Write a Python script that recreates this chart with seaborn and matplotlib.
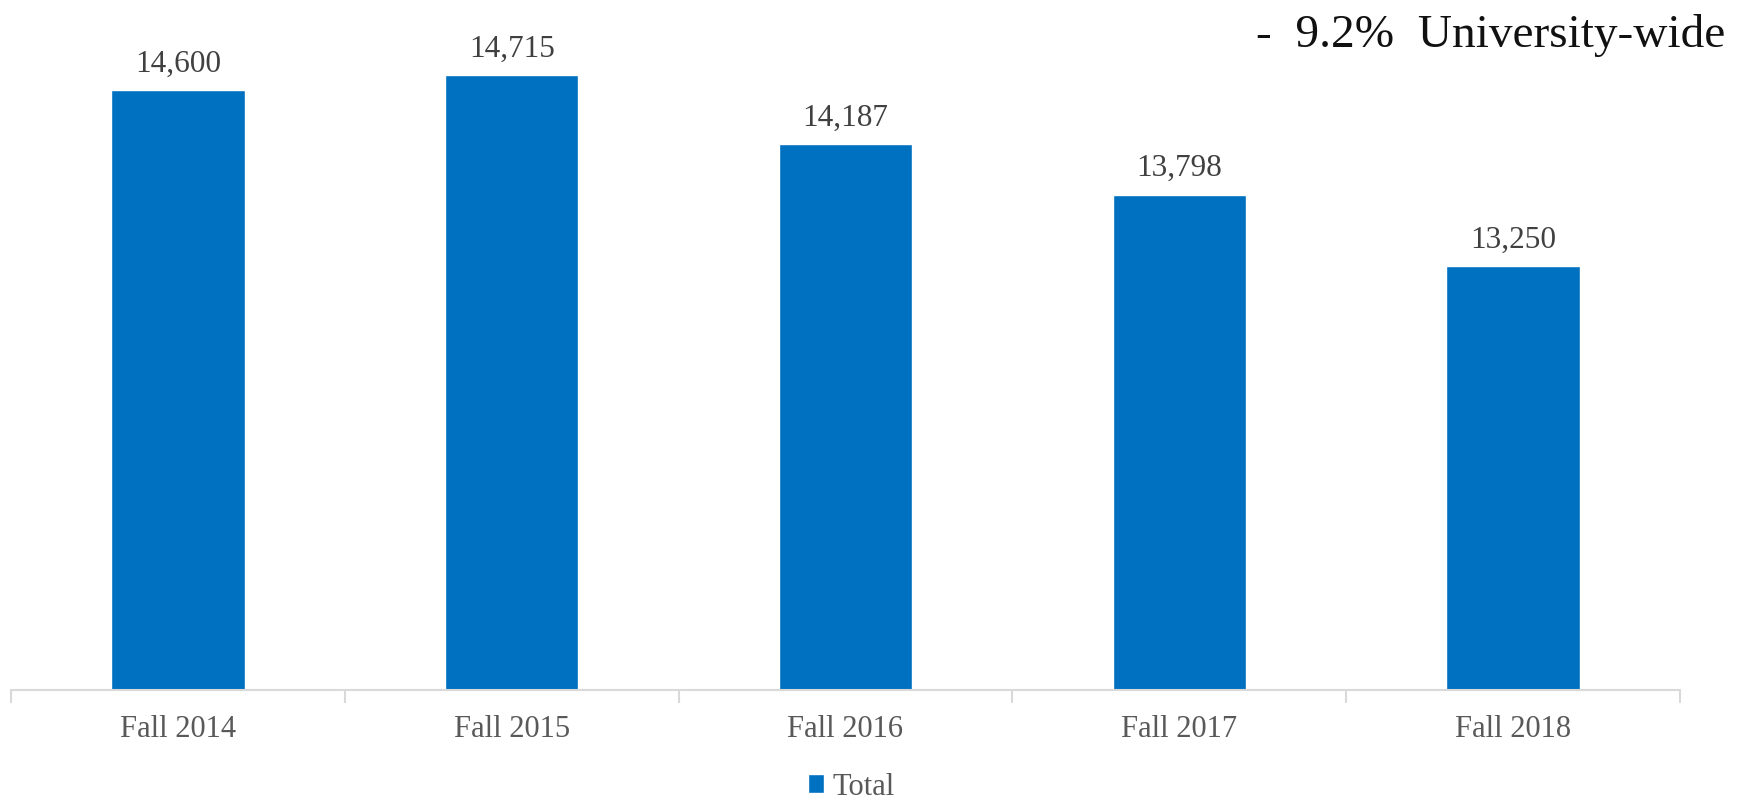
import matplotlib
matplotlib.use("Agg")
import matplotlib.pyplot as plt
import seaborn as sns
import numpy as np

# data
terms = ["Fall 2014", "Fall 2015", "Fall 2016", "Fall 2017", "Fall 2018"]
totals = [14600, 14715, 14187, 13798, 13250]
series_name = "Total"
change_note = "-  9.2%  University-wide"

sns.set_style("white")
plt.rcParams["font.family"] = ["Liberation Serif", "DejaVu Serif"]

bar_color = "#0070C0"
axis_gray = "#D9D9D9"

fig = plt.figure(figsize=(17.49, 8.03), dpi=100)
ax = fig.add_axes([11 / 1749, 112 / 803, 1669 / 1749, 691 / 803])

sns.barplot(x=terms, y=totals, color=bar_color, saturation=1, width=0.4,
            label=series_name, ax=ax)

ax.set_ylim(10000, 15300)
ax.set_xlim(-0.5, len(terms) - 0.5)

# value labels above each bar
ax.bar_label(ax.containers[0], labels=[f"{v:,}" for v in totals],
             padding=9, fontsize=22.5, color="#404040")

# axis styling: only a light bottom line with ticks between categories
for side in ["top", "left", "right"]:
    ax.spines[side].set_visible(False)
ax.spines["bottom"].set_color(axis_gray)
ax.spines["bottom"].set_linewidth(1.5)
ax.set_yticks([])
ax.set_xticks(np.arange(-0.5, len(terms)), minor=True)
ax.tick_params(axis="x", which="major", bottom=True, length=0, pad=17,
               labelsize=22, labelcolor="#595959")
ax.tick_params(axis="x", which="minor", bottom=True, length=9, width=1.5,
               color=axis_gray)
ax.set_xlabel("")
ax.set_ylabel("")

# legend at the bottom
leg = ax.get_legend()
if leg is not None:
    leg.remove()
handles, labels = ax.get_legend_handles_labels()
fig.legend(handles[:1], labels[:1], loc="center",
           bbox_to_anchor=(851 / 1749, 1 - 788 / 803), frameon=False,
           fontsize=22, handlelength=0.55, handleheight=0.55,
           handletextpad=0.25, labelcolor="#595959")

# headline change note
fig.text(1725 / 1749, 1 - 47 / 803, change_note, ha="right", va="baseline",
         fontsize=34, color="#111111")

fig.savefig("out.png", dpi=100)
